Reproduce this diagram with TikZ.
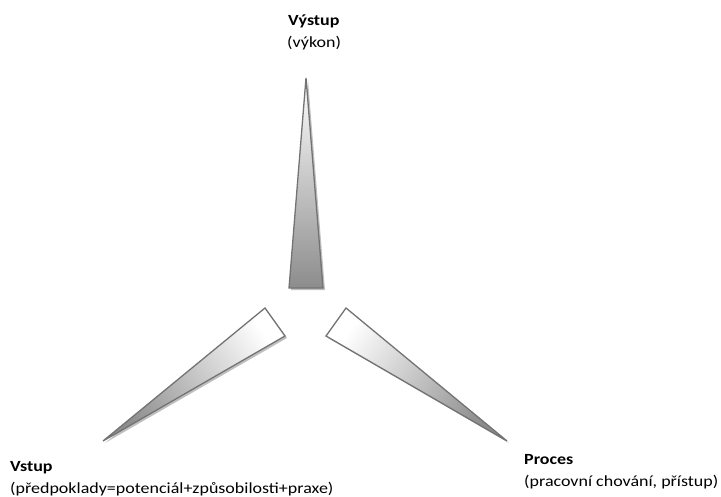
\documentclass[tikz,border=0pt]{standalone}
\usepackage{fontspec}
\setmainfont{Carlito}
\usetikzlibrary{shadows}

\begin{document}
\begin{tikzpicture}[x=1pt, y=-1pt,
    spike/.style={draw=black!55, line width=1.3pt, line join=miter,
        drop shadow={shadow xshift=2pt, shadow yshift=-2pt, opacity=0.25, fill=black}},
    title/.style={anchor=base west, inner sep=0pt, xscale=1.16, font=\fontsize{15.5}{22}\selectfont\bfseries},
    sub/.style={anchor=base west, inner sep=0pt, xscale=1.16, font=\fontsize{15.5}{22}\selectfont}]

    % Page size of the reference
    \useasboundingbox (0,0) rectangle (721,496);

    % Top spike: output
    \path[spike, top color=white, bottom color=black!45]
        (306,78) -- (323,288) -- (289,288) -- cycle;

    % Left spike: input
    \path[spike, top color=white, bottom color=black!45, shading angle=-55]
        (103,441) -- (265,308) -- (285,336) -- cycle;

    % Right spike: process
    \path[spike, top color=white, bottom color=black!45, shading angle=55]
        (507,441) -- (326,336) -- (346,308) -- cycle;

    % Labels
    \node[title] (outtitle) at (288,25) {Výstup};
    \node[sub] (outsub) at (287,47) {(výkon)};

    \node[title] (intitle) at (10,471) {Vstup};
    \node[sub] (insub) at (10,493) {(předpoklady=potenciál+způsobilosti+praxe)};

    \node[title] (proctitle) at (524,464) {Proces};
    \node[sub] (procsub) at (524,486) {(pracovní chování, přístup)};
\end{tikzpicture}
\end{document}
